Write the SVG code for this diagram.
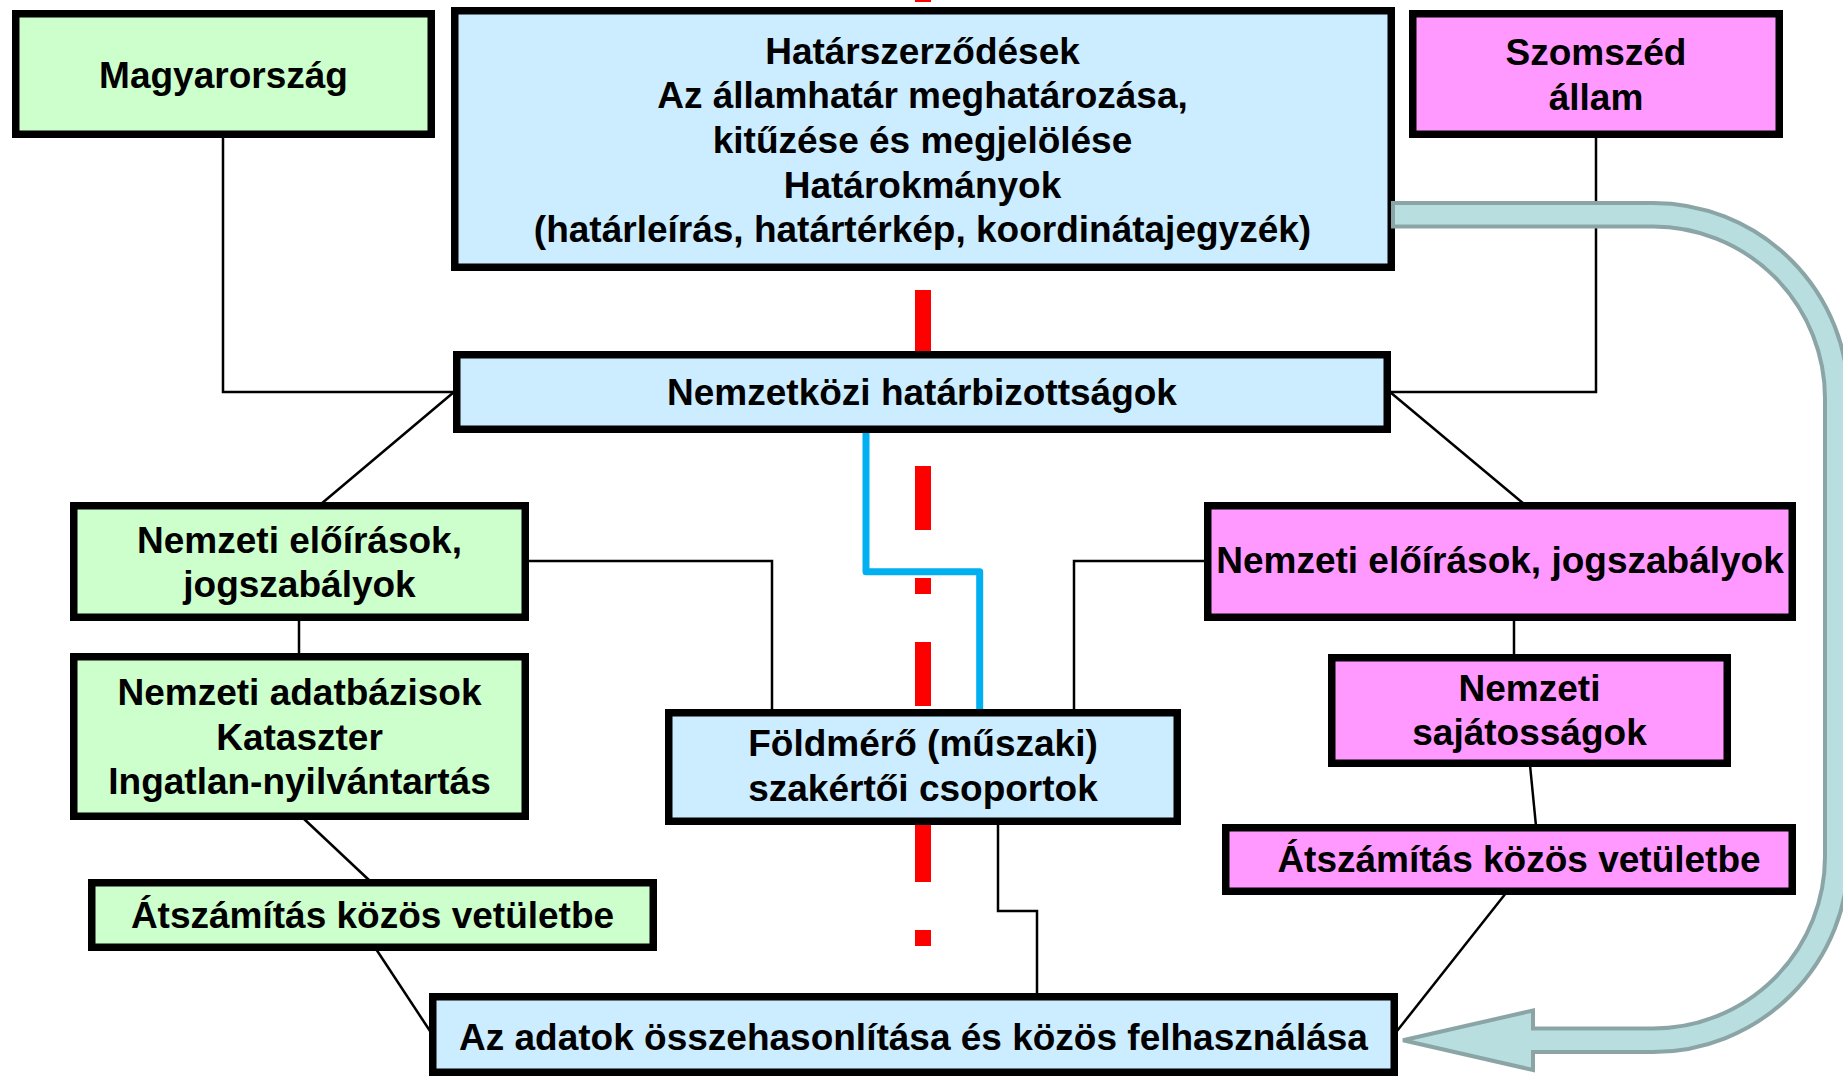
<svg xmlns="http://www.w3.org/2000/svg" width="1843" height="1078" viewBox="0 0 1843 1078">
<style>
.box{stroke:#000;stroke-width:7.5}
.g{fill:#CCFFCC}.b{fill:#CCECFF}.p{fill:#FF99FF}
.c{fill:none;stroke:#000;stroke-width:2.5}
text{font-family:"Liberation Sans",Arial,sans-serif;font-weight:bold;font-size:37px;text-anchor:middle;fill:#000}
</style>
<rect width="1843" height="1078" fill="#fff"/>
<g id="boundary">
<line x1="923" y1="-62" x2="923" y2="1000" stroke="#FF0000" stroke-width="16" stroke-dasharray="64 48 16 48"/>
</g>
<g id="connectors">
<path class="c" d="M223,138 V392 H455"/>
<path class="c" d="M1596,138 V392 H1389"/>
<path class="c" d="M454,392 L321,504"/>
<path class="c" d="M1390,392 L1524,504"/>
<path class="c" d="M299,619 V655"/>
<path class="c" d="M303,818 L370,881"/>
<path class="c" d="M376,949 L430,1031"/>
<path class="c" d="M527,561 H772 V711"/>
<path class="c" d="M1206,561 H1074 V711"/>
<path class="c" d="M1514,619 V656"/>
<path class="c" d="M1530,765 L1536,826"/>
<path class="c" d="M1506,893 L1397,1031"/>
<path class="c" d="M998,823 V911 H1037 V995"/>
<path fill="none" stroke="#00B0F0" stroke-width="7" stroke-linejoin="round" d="M866,430 V571.7 H979.7 V712"/>
</g>
<g id="n-magyarorszag"><rect class="box g" x="15.75" y="13.75" width="415.5" height="120.5"/><text x="223.5" y="88.3">Magyarország</text></g>
<g id="n-hatarszerzodesek"><rect class="box b" x="454.75" y="10.75" width="936.5" height="256.5"/>
<text x="922.5" y="63.5">Határszerződések</text>
<text x="922.5" y="108.2">Az államhatár meghatározása,</text>
<text x="922.5" y="152.9">kitűzése és megjelölése</text>
<text x="922.5" y="197.6">Határokmányok</text>
<text x="922.5" y="242.3">(határleírás, határtérkép, koordinátajegyzék)</text></g>
<g id="n-szomszed"><rect class="box p" x="1412.75" y="13.75" width="366.5" height="120.5"/><text x="1596" y="65">Szomszéd</text><text x="1596" y="110">állam</text></g>
<g id="n-hatarbizottsagok"><rect class="box b" x="456.75" y="354.75" width="930.5" height="74.5"/><text x="922" y="405">Nemzetközi határbizottságok</text></g>
<g id="n-eloirasok-hu"><rect class="box g" x="73.75" y="505.75" width="451.5" height="111.5"/><text x="299.5" y="552.7">Nemzeti előírások,</text><text x="299.5" y="597.4">jogszabályok</text></g>
<g id="n-adatbazisok"><rect class="box g" x="73.75" y="656.75" width="451.5" height="159.5"/><text x="299.5" y="705">Nemzeti adatbázisok</text><text x="299.5" y="749.5">Kataszter</text><text x="299.5" y="794">Ingatlan-nyilvántartás</text></g>
<g id="n-atszamitas-hu"><rect class="box g" x="91.75" y="882.75" width="561.5" height="64.5"/><text x="372.5" y="928">Átszámítás közös vetületbe</text></g>
<g id="n-foldmero"><rect class="box b" x="668.75" y="712.75" width="508.5" height="108.5"/><text x="923" y="756.4">Földmérő (műszaki)</text><text x="923" y="801">szakértői csoportok</text></g>
<g id="n-osszehasonlitas"><rect class="box b" x="432.75" y="996.75" width="961.5" height="75.5"/><text x="913.5" y="1050">Az adatok összehasonlítása és közös felhasználása</text></g>
<g id="n-eloirasok-sz"><rect class="box p" x="1207.75" y="505.75" width="584.5" height="111.5"/><text x="1500" y="572.6">Nemzeti előírások, jogszabályok</text></g>
<g id="n-sajatossagok"><rect class="box p" x="1331.75" y="657.75" width="395.5" height="105.5"/><text x="1529.5" y="700.7">Nemzeti</text><text x="1529.5" y="745">sajátosságok</text></g>
<g id="n-atszamitas-sz"><rect class="box p" x="1225.75" y="827.75" width="566.5" height="63.5"/><text x="1519" y="871.7">Átszámítás közös vetületbe</text></g>
<g id="connector-arrow">
<path fill="#B8DEE0" stroke="#8BA5A6" stroke-width="4" stroke-linejoin="miter" d="M1393,203 H1653 A195.5,195.5 0 0 1 1848.5,398.5 V856.5 A195.5,195.5 0 0 1 1653,1052 H1533 V1070 L1403,1040.25 L1533,1010.5 V1028.5 H1653 A172,172 0 0 0 1825,856.5 V398.5 A172,172 0 0 0 1653,226.5 H1393 Z"/>
</g>
</svg>
